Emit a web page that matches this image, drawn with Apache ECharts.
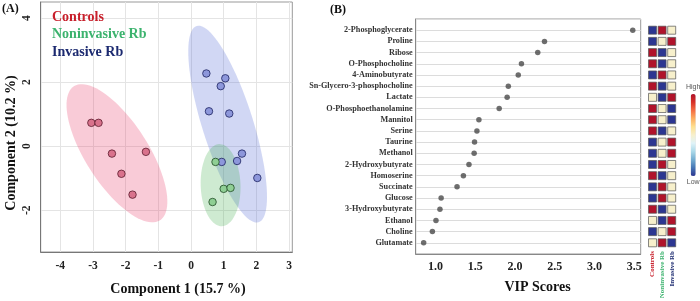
<!DOCTYPE html>
<html><head><meta charset="utf-8">
<script src="https://cdn.jsdelivr.net/npm/echarts@6/dist/echarts.min.js"></script>
<style>html,body{margin:0;padding:0;background:#fff}#c{width:700px;height:301px}</style>
</head><body><div id="c"></div>
<script>
// ---------- Panel A: PCA scores ----------
const groupNames = ['Controls', 'Noninvasive Rb', 'Invasive Rb'];
const controlsX = [-3.05, -2.83, -2.42, -1.38, -2.13, -1.79];
const controlsY = [0.73, 0.73, -0.23, -0.175, -0.86, -1.51];
const noninvX = [0.75, 1.00, 1.21, 0.66];
const noninvY = [-0.49, -1.33, -1.30, -1.74];
const invasiveX = [0.47, 1.05, 0.91, 0.55, 1.17, 1.56, 0.94, 1.41, 2.03];
const invasiveY = [2.27, 2.12, 1.875, 1.09, 1.02, -0.23, -0.49, -0.46, -0.99];
const pcaXTicks = [-4, -3, -2, -1, 0, 1, 2, 3];
const pcaYTicks = [-2, 0, 2, 4];

// ---------- Panel B: VIP scores ----------
const metabolites = ['2-Phosphoglycerate', 'Proline', 'Ribose', 'O-Phosphocholine', '4-Aminobutyrate',
  'Sn-Glycero-3-phosphocholine', 'Lactate', 'O-Phosphoethanolamine', 'Mannitol', 'Serine', 'Taurine',
  'Methanol', '2-Hydroxybutyrate', 'Homoserine', 'Succinate', 'Glucose', '3-Hydroxybutyrate',
  'Ethanol', 'Choline', 'Glutamate'];
const vipScores = [3.48, 2.37, 2.285, 2.08, 2.04, 1.915, 1.90, 1.80, 1.545, 1.52, 1.49,
  1.485, 1.42, 1.35, 1.27, 1.07, 1.055, 1.005, 0.96, 0.85];
const vipTicks = [1.0, 1.5, 2.0, 2.5, 3.0, 3.5];
// relative level per group: 1 = high, 0 = middle, -1 = low
const heatControls = [-1, -1, 1, 1, -1, 1, 0, 1, 1, 1, -1, -1, -1, 1, -1, -1, 1, 0, -1, 0];
const heatNoninv   = [1, 0, -1, -1, 1, -1, -1, 0, 0, -1, 0, 0, 1, -1, 1, 1, -1, -1, 0, 1];
const heatInv      = [0, 1, 0, 0, 0, 0, 1, -1, -1, 0, 1, 1, 0, 0, 0, 0, 0, 1, 1, -1];

const SERIF = 'Liberation Serif';
const groupX = [controlsX, noninvX, invasiveX];
const groupY = [controlsY, noninvY, invasiveY];
const pointFill = ['#d9728c', '#8fcf94', '#8d97db'];
const pointBorder = ['#5a1a2c', '#1f4a25', '#1c2260'];
const ellFill = ['rgba(232,70,110,0.28)', 'rgba(60,170,70,0.25)', 'rgba(70,95,210,0.25)'];
const legendColor = ['#c8202c', '#3cb36e', '#1c2a70'];

// 95% confidence ellipse (chi-square, 2 dof) from the group covariance
function ellipse(xs, ys) {
  const n = xs.length;
  const mx = xs.reduce((a, b) => a + b, 0) / n, my = ys.reduce((a, b) => a + b, 0) / n;
  let sxx = 0, syy = 0, sxy = 0;
  for (let i = 0; i < n; i++) { const dx = xs[i] - mx, dy = ys[i] - my; sxx += dx * dx; syy += dy * dy; sxy += dx * dy; }
  sxx /= (n - 1); syy /= (n - 1); sxy /= (n - 1);
  const tr = (sxx + syy) / 2, d = Math.sqrt(((sxx - syy) / 2) ** 2 + sxy * sxy);
  const l1 = tr + d, l2 = Math.max(tr - d, 0);
  const th = 0.5 * Math.atan2(2 * sxy, sxx - syy);
  const s = Math.sqrt(5.991);
  const a = s * Math.sqrt(l1), b = s * Math.sqrt(l2);
  const pts = [];
  for (let k = 0; k < 96; k++) {
    const t = 2 * Math.PI * k / 96;
    pts.push([mx + a * Math.cos(t) * Math.cos(th) - b * Math.sin(t) * Math.sin(th),
              my + a * Math.cos(t) * Math.sin(th) + b * Math.sin(t) * Math.cos(th)]);
  }
  return pts;
}

const series = [];
// ellipses (controls, invasive, noninvasive order)
[0, 2, 1].forEach(g => {
  const pts = ellipse(groupX[g], groupY[g]);
  series.push({
    type: 'custom', name: groupNames[g] + ' ellipse', xAxisIndex: 0, yAxisIndex: 0, silent: true, z: 1,
    data: [[0, 0]],
    renderItem: (params, api) => ({
      type: 'polygon',
      shape: { points: pts.map(p => api.coord(p)) },
      style: { fill: ellFill[g], stroke: null }
    })
  });
});
// points
[0, 2, 1].forEach(g => {
  series.push({
    type: 'scatter', name: groupNames[g], xAxisIndex: 0, yAxisIndex: 0, z: 3,
    symbolSize: 7.5,
    itemStyle: { color: pointFill[g], borderColor: pointBorder[g], borderWidth: 0.8, opacity: 1 },
    data: groupX[g].map((x, i) => [x, groupY[g][i]])
  });
});
// VIP dots
series.push({
  type: 'scatter', name: 'VIP', xAxisIndex: 1, yAxisIndex: 1, symbolSize: 5.5,
  itemStyle: { color: '#4a4a4a' },
  data: vipScores.map((v, i) => [v, i + 1])
});
// heat cells
const heatData = [];
[heatControls, heatNoninv, heatInv].forEach((arr, j) => arr.forEach((v, i) => heatData.push([j, i + 1, v])));
series.push({
  type: 'scatter', name: 'heat', xAxisIndex: 2, yAxisIndex: 2, symbol: 'rect', symbolSize: 8,
  itemStyle: { borderColor: '#555', borderWidth: 0.7, opacity: 1 },
  data: heatData
});
const heatSeriesIndex = series.length - 1;

const tickLabelA = { fontFamily: SERIF, fontWeight: 'bold', fontSize: 11.5, color: '#222' };

const option = {
  animation: false,
  backgroundColor: '#fff',
  textStyle: { fontFamily: SERIF },
  grid: [
    { left: 40.7, top: 2, width: 251.6, height: 250, show: true, borderColor: '#999', borderWidth: 1, backgroundColor: '#fff', containLabel: false, outerBoundsMode: 'none' },
    { left: 415.7, top: 19, width: 225, height: 235, show: true, borderColor: '#999', borderWidth: 1, containLabel: false, outerBoundsMode: 'none' },
    { left: 647.7, top: 19, width: 28.8, height: 235, show: false, containLabel: false, outerBoundsMode: 'none' }
  ],
  xAxis: [
    { type: 'value', gridIndex: 0, min: -4.6, max: 3.1,
      axisLine: { show: true, onZero: false, lineStyle: { color: '#777', width: 1 } },
      axisTick: { show: false, customValues: pcaXTicks },
      axisLabel: Object.assign({ margin: 8, customValues: pcaXTicks }, tickLabelA),
      splitLine: { show: true, lineStyle: { color: '#e4e4e4', width: 1 } } },
    { type: 'value', gridIndex: 1, min: 0.75, max: 3.58,
      axisLine: { show: true, onZero: false, lineStyle: { color: '#888', width: 1 } },
      axisTick: { show: false, customValues: vipTicks },
      axisLabel: { margin: 7, customValues: vipTicks, formatter: v => v.toFixed(1), fontFamily: SERIF, fontWeight: 'bold', fontSize: 12, color: '#222' },
      splitLine: { show: false } },
    { type: 'category', gridIndex: 2, data: groupNames, boundaryGap: true,
      axisLine: { show: false }, axisTick: { show: false }, splitLine: { show: false },
      axisLabel: { rotate: 90, margin: -3, interval: 0, fontFamily: SERIF, fontWeight: 'bold', fontSize: 7,
        formatter: (v, i) => '{c' + i + '|' + v + '}',
        rich: { c0: { color: legendColor[0], fontFamily: SERIF, fontWeight: 'bold', fontSize: 7 },
                c1: { color: legendColor[1], fontFamily: SERIF, fontWeight: 'bold', fontSize: 7 },
                c2: { color: legendColor[2], fontFamily: SERIF, fontWeight: 'bold', fontSize: 7 } } } }
  ],
  yAxis: [
    { type: 'value', gridIndex: 0, min: -3.3, max: 4.5,
      axisLine: { show: true, onZero: false, lineStyle: { color: '#777', width: 1 } },
      axisTick: { show: false, customValues: pcaYTicks },
      axisLabel: Object.assign({ margin: 8, rotate: 90, customValues: pcaYTicks }, tickLabelA),
      splitLine: { show: true, lineStyle: { color: '#e4e4e4', width: 1 } } },
    { type: 'value', gridIndex: 1, min: 0, max: 21, interval: 1, inverse: true,
      axisLine: { show: true, onZero: false, lineStyle: { color: '#888', width: 1 } },
      axisTick: { show: false },
      axisLabel: { margin: 3, formatter: v => metabolites[v - 1] || '', fontFamily: SERIF, fontWeight: 'bold', fontSize: 8.2, color: '#333' },
      splitLine: { show: true, lineStyle: { color: '#dcdcdc', width: 1 } } },
    { type: 'value', gridIndex: 2, min: 0, max: 21, interval: 1, inverse: true, show: false }
  ],
  legend: {
    data: groupNames.map((n, i) => ({ name: n, textStyle: { color: legendColor[i] } })),
    orient: 'vertical', left: 47, top: 10, padding: 0, itemGap: 3.5, icon: 'none', itemWidth: 0, itemHeight: 14,
    selectedMode: false,
    textStyle: { fontFamily: SERIF, fontWeight: 'bold', fontSize: 14 }
  },
  visualMap: {
    type: 'continuous', min: -1, max: 1, seriesIndex: heatSeriesIndex, dimension: 2,
    calculable: false, hoverLink: false, orient: 'vertical',
    left: 686, top: 84, itemWidth: 5, itemHeight: 82, text: ['High', 'Low'], textGap: 3, padding: 0,
    textStyle: { fontFamily: 'Liberation Sans', fontSize: 7, color: '#555' },
    inRange: { color: ['#2c3691', '#4575b4', '#74add1', '#abd9e9', '#e0f3f8', '#f7f0cc', '#fee090', '#fdae61', '#f46d43', '#d73027', '#b0132b'] }
  },
  graphic: [
    { type: 'text', left: 2, top: 3, style: { text: '(A)', fontFamily: SERIF, fontWeight: 'bold', fontSize: 12, fill: '#111' } },
    { type: 'text', left: 330, top: 4, style: { text: '(B)', fontFamily: SERIF, fontWeight: 'bold', fontSize: 12, fill: '#111' } },
    { type: 'text', x: 178, y: 289, style: { text: 'Component 1 (15.7 %)', align: 'center', verticalAlign: 'middle', fontFamily: SERIF, fontWeight: 'bold', fontSize: 14, fill: '#111' } },
    { type: 'text', x: 11, y: 143, rotation: Math.PI / 2, style: { text: 'Component 2 (10.2 %)', align: 'center', verticalAlign: 'middle', fontFamily: SERIF, fontWeight: 'bold', fontSize: 14, fill: '#111' } },
    { type: 'text', x: 537.5, y: 287, style: { text: 'VIP Scores', align: 'center', verticalAlign: 'middle', fontFamily: SERIF, fontWeight: 'bold', fontSize: 14, fill: '#111' } }
  ],
  series: series
};

const chart = echarts.init(document.getElementById('c'), null, { renderer: 'canvas' });
chart.setOption(option);
</script>
</body></html>
